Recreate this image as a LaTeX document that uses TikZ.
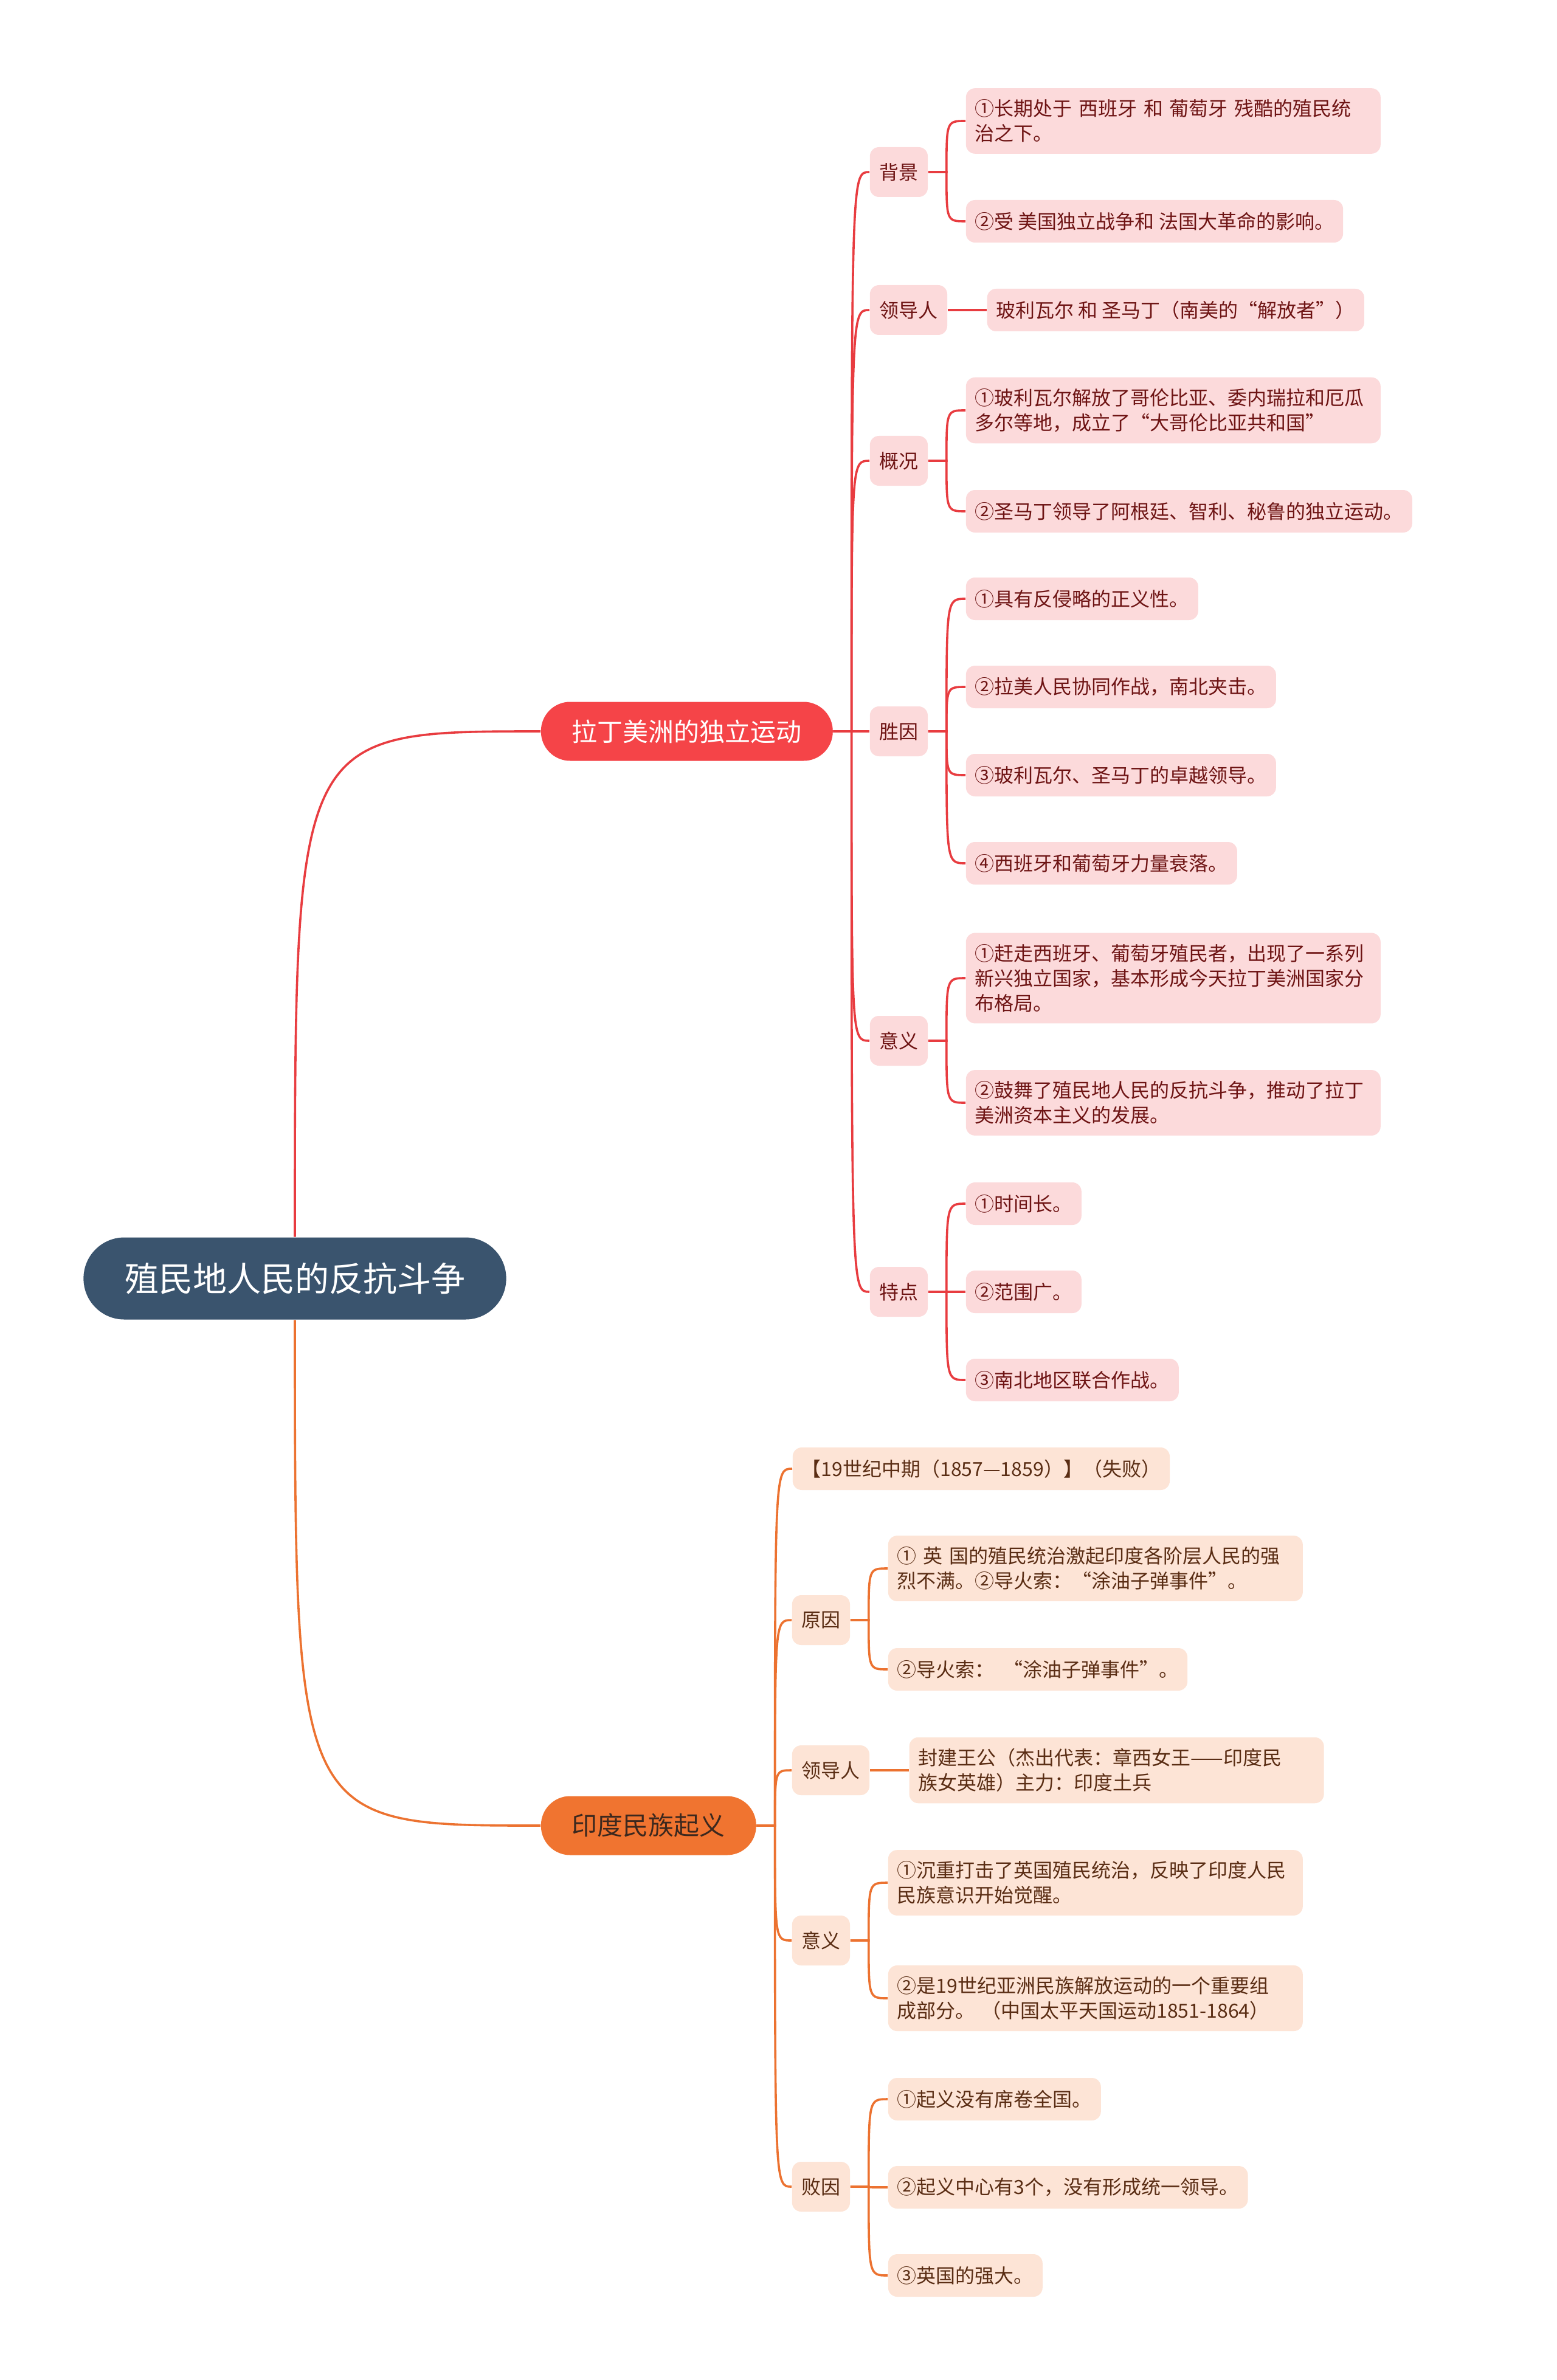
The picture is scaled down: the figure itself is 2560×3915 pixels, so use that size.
\documentclass[tikz,border=0pt]{standalone}
\usepackage{xcolor}
\usepackage{fontspec}
\setmainfont{Noto Sans CJK SC}
\usepackage{tikz}
\usetikzlibrary{positioning}
\definecolor{rootblue}{RGB}{58,84,110}
\definecolor{myred}{RGB}{245,68,72}
\definecolor{linered}{RGB}{232,60,64}
\definecolor{hdrred}{RGB}{252,218,219}
\definecolor{redtext}{RGB}{110,20,20}
\definecolor{myorange}{RGB}{240,116,48}
\definecolor{lineorange}{RGB}{236,114,48}
\definecolor{hdrorange}{RGB}{253,228,214}
\definecolor{orangetext}{RGB}{90,45,20}
\definecolor{branchtext}{RGB}{60,40,30}
\tikzset{
  rootnode/.style={rectangle, fill=rootblue, text=white, rounded corners=16.8pt,
    minimum height=33.75pt, inner xsep=16.9pt, font=\fontsize{14}{17}\selectfont},
  redbranch/.style={rectangle, fill=myred, text=white, rounded corners=12pt,
    minimum height=24.25pt, inner xsep=12.75pt, anchor=west, font=\fontsize{10.5}{13}\selectfont},
  orangebranch/.style={redbranch, fill=myorange, text=branchtext},
  redcat/.style={rectangle, fill=hdrred, text=redtext, rounded corners=3.75pt,
    minimum height=20.5pt, inner xsep=3.9pt, anchor=west, font=\fontsize{8}{10.3}\selectfont},
  orangecat/.style={redcat, fill=hdrorange, text=orangetext},
  redleaf/.style={rectangle, fill=hdrred, text=redtext, rounded corners=3.75pt, align=left,
    minimum height=17.5pt, inner xsep=3.75pt, inner ysep=4.6pt, anchor=west,
    font=\fontsize{8}{10.3}\selectfont},
  orangeleaf/.style={redleaf, fill=hdrorange, text=orangetext},
  wide/.style={text width=163pt},
  redline/.style={draw=linered, line width=0.9pt},
  orangeline/.style={draw=lineorange, line width=0.9pt},
  redlink/.style={redline, to path={-- ++(30,0) coordinate (lk)
    .. controls (lk |- \tikztotarget) .. (\tikztotarget)}},
  orangelink/.style={orangeline, to path={-- ++(30,0) coordinate (lk)
    .. controls (lk |- \tikztotarget) .. (\tikztotarget)}}
}

\begin{document}
\begin{tikzpicture}[x=0.25pt, y=-0.25pt]
  \fill[white] (0,0) rectangle (2560,3915);

  % Root
  \node[rootnode] (root) at (485,2103) {殖民地人民的反抗斗争};

  % Main branches
  \node[redbranch] (la) at (889,1203) {拉丁美洲的独立运动};
  \node[orangebranch] (in) at (889,3003) {印度民族起义};

  \draw[redline] (root.north) .. controls (root.north |- la.west) .. (la.west);
  \draw[orangeline] (root.south) .. controls (root.south |- in.west) .. (in.west);

  % Latin America: topics
  \node[redcat] (bg) at (1430,283) {背景};
  \node[redcat] (rl) at (1430,510) {领导人};
  \node[redcat] (gk) at (1430,758) {概况};
  \node[redcat] (sy) at (1430,1203) {胜因};
  \node[redcat] (yy) at (1430,1712) {意义};
  \node[redcat] (td) at (1430,2125) {特点};

  % Latin America: details
  \node[redleaf, wide] (bg1) at (1588,199) {①长期处于 西班牙 和 葡萄牙 残酷的殖民统\\治之下。};
  \node[redleaf] (bg2) at (1588,364) {②受 美国独立战争和 法国大革命的影响。};
  \node[redleaf, right=16pt of rl] (rl1) {玻利瓦尔 和 圣马丁（南美的“解放者”）};
  \node[redleaf, wide] (gk1) at (1588,675) {①玻利瓦尔解放了哥伦比亚、委内瑞拉和厄瓜\\多尔等地，成立了“大哥伦比亚共和国”};
  \node[redleaf] (gk2) at (1588,841) {②圣马丁领导了阿根廷、智利、秘鲁的独立运动。};
  \node[redleaf] (sy1) at (1588,985) {①具有反侵略的正义性。};
  \node[redleaf] (sy2) at (1588,1130) {②拉美人民协同作战，南北夹击。};
  \node[redleaf] (sy3) at (1588,1275) {③玻利瓦尔、圣马丁的卓越领导。};
  \node[redleaf] (sy4) at (1588,1420) {④西班牙和葡萄牙力量衰落。};
  \node[redleaf, wide] (yy1) at (1588,1609) {①赶走西班牙、葡萄牙殖民者，出现了一系列\\新兴独立国家，基本形成今天拉丁美洲国家分\\布格局。};
  \node[redleaf, wide] (yy2) at (1588,1814) {②鼓舞了殖民地人民的反抗斗争，推动了拉丁\\美洲资本主义的发展。};
  \node[redleaf] (td1) at (1588,1980) {①时间长。};
  \node[redleaf] (td2) at (1588,2125) {②范围广。};
  \node[redleaf] (td3) at (1588,2270) {③南北地区联合作战。};

  % Latin America: links
  \draw[redlink] (la.east) to (bg);
  \draw[redlink] (la.east) to (rl);
  \draw[redlink] (la.east) to (gk);
  \draw[redlink] (la.east) to (sy);
  \draw[redlink] (la.east) to (yy);
  \draw[redlink] (la.east) to (td);
  \draw[redlink] (bg.east) to (bg1);
  \draw[redlink] (bg.east) to (bg2);
  \draw[redline] (rl) -- (rl1);
  \draw[redlink] (gk.east) to (gk1);
  \draw[redlink] (gk.east) to (gk2);
  \draw[redlink] (sy.east) to (sy1);
  \draw[redlink] (sy.east) to (sy2);
  \draw[redlink] (sy.east) to (sy3);
  \draw[redlink] (sy.east) to (sy4);
  \draw[redlink] (yy.east) to (yy1);
  \draw[redlink] (yy.east) to (yy2);
  \draw[redlink] (td.east) to (td1);
  \draw[redlink] (td.east) to (td2);
  \draw[redlink] (td.east) to (td3);

  % India: topics
  \node[orangeleaf] (tm) at (1303,2416) {【19世纪中期（1857—1859）】（失败）};
  \node[orangecat] (yo) at (1302,2665) {原因};
  \node[orangecat] (ol) at (1302,2912) {领导人};
  \node[orangecat] (oy) at (1302,3192) {意义};
  \node[orangecat] (bf) at (1302,3597) {败因};

  % India: details
  \node[orangeleaf, wide] (yo1) at (1460,2580) {① 英 国的殖民统治激起印度各阶层人民的强\\烈不满。②导火索：“涂油子弹事件”。};
  \node[orangeleaf] (yo2) at (1460,2746) {②导火索：\ \ “涂油子弹事件”。};
  \node[orangeleaf, wide, right=16pt of ol] (ol1) {封建王公（杰出代表：章西女王——印度民\\族女英雄）主力：印度土兵};
  \node[orangeleaf, wide] (oy1) at (1460,3097) {①沉重打击了英国殖民统治，反映了印度人民\\民族意识开始觉醒。};
  \node[orangeleaf, wide] (oy2) at (1460,3287) {②是19世纪亚洲民族解放运动的一个重要组\\成部分。 （中国太平天国运动1851-1864）};
  \node[orangeleaf] (bf1) at (1460,3453) {①起义没有席卷全国。};
  \node[orangeleaf] (bf2) at (1460,3598) {②起义中心有3个，没有形成统一领导。};
  \node[orangeleaf] (bf3) at (1460,3743) {③英国的强大。};

  % India: links
  \draw[orangelink] (in.east) to (tm);
  \draw[orangelink] (in.east) to (yo);
  \draw[orangelink] (in.east) to (ol);
  \draw[orangelink] (in.east) to (oy);
  \draw[orangelink] (in.east) to (bf);
  \draw[orangelink] (yo.east) to (yo1);
  \draw[orangelink] (yo.east) to (yo2);
  \draw[orangeline] (ol) -- (ol1);
  \draw[orangelink] (oy.east) to (oy1);
  \draw[orangelink] (oy.east) to (oy2);
  \draw[orangelink] (bf.east) to (bf1);
  \draw[orangelink] (bf.east) to (bf2);
  \draw[orangelink] (bf.east) to (bf3);
\end{tikzpicture}
\end{document}
